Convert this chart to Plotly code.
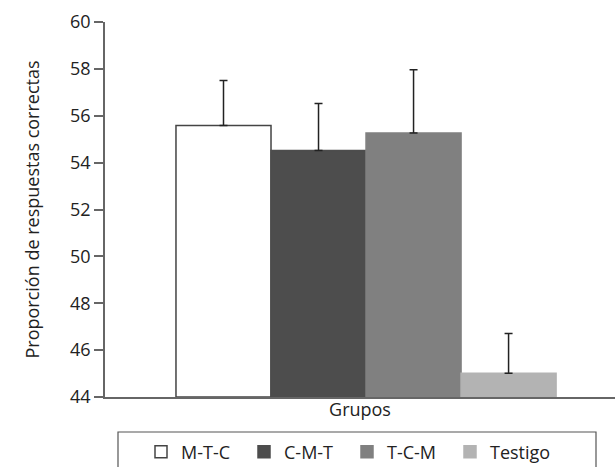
import plotly.graph_objects as go

groups = ["M-T-C", "C-M-T", "T-C-M", "Testigo"]
means = [55.58, 54.52, 55.26, 45.01]
errors_up = [1.92, 2.0, 2.7, 1.7]
fills = ["#ffffff", "#4d4d4d", "#808080", "#b3b3b3"]
outlines = ["#444444", "#4d4d4d", "#808080", "#b3b3b3"]

yticks = [44, 46, 48, 50, 52, 54, 56, 58, 60]

FONT = "Open Sans"

fig = go.Figure()
for i, name in enumerate(groups):
    fig.add_trace(go.Bar(
        x=[i], y=[means[i] - 44], base=44, width=1, name=name,
        marker=dict(color=fills[i], line=dict(color=outlines[i], width=1.5)),
        error_y=dict(type="data", symmetric=False, array=[errors_up[i]],
                     arrayminus=[0], color="#222222", thickness=1.5, width=4),
    ))

fig.update_layout(
    width=615, height=467,
    margin=dict(l=105, r=0, t=22, b=70, autoexpand=False),
    paper_bgcolor="white", plot_bgcolor="white",
    barmode="overlay",
    font=dict(family=FONT, size=17, color="#222222"),
    xaxis=dict(range=[-1.247, 4.12], showticklabels=False, ticks="",
               showgrid=False, zeroline=False, showline=True,
               linecolor="#666666", linewidth=1.5,
               title=dict(text="Grupos", standoff=6, font=dict(size=18))),
    yaxis=dict(range=[44, 60], tickvals=yticks, ticks="outside", ticklen=9,
               tickcolor="#666666", tickwidth=1.5, showgrid=False, zeroline=False,
               showline=True, linecolor="#666666", linewidth=1.5,
               tickfont=dict(size=18),
               title=dict(text="Proporción de respuestas correctas", standoff=26,
                          font=dict(size=18))),
    legend=dict(orientation="h", x=(141 - 105) / 510, xanchor="left",
                y=(397 - 452) / 375, yanchor="middle",
                font=dict(size=18), entrywidth=58, entrywidthmode="pixels",
                bgcolor="rgba(0,0,0,0)", traceorder="normal"),
    shapes=[dict(type="rect", xref="paper", yref="paper",
                 x0=(118 - 105) / 510, x1=(596 - 105) / 510,
                 y0=(397 - 475) / 375, y1=(397 - 432) / 375,
                 line=dict(color="#555555", width=1.2), fillcolor="rgba(0,0,0,0)")],
)

fig.write_html("out.html")
